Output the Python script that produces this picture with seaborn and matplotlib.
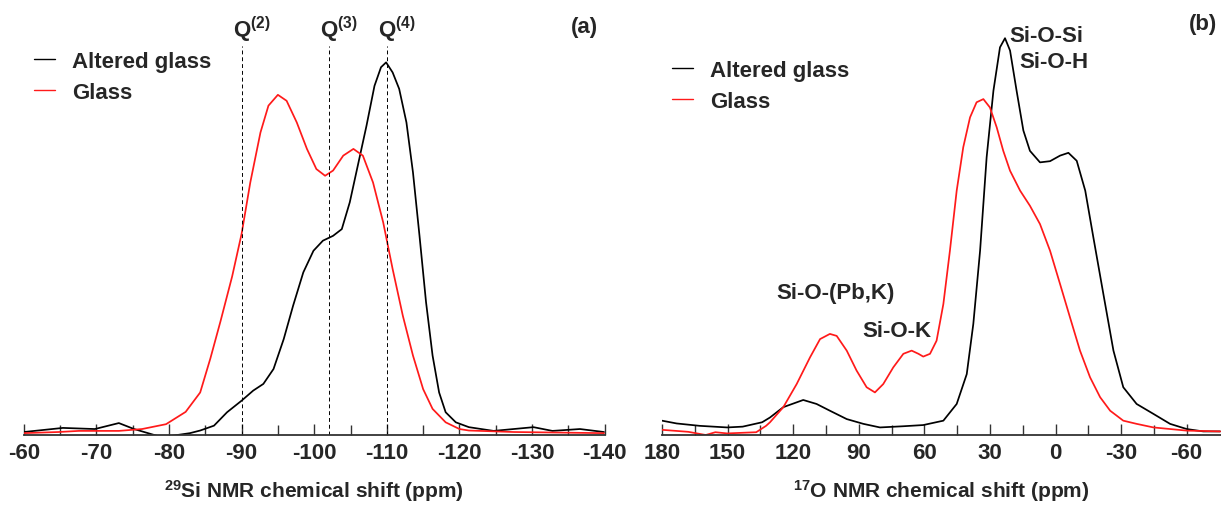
import numpy as np
import pandas as pd
import matplotlib
matplotlib.use("Agg")
import matplotlib.pyplot as plt
import seaborn as sns

# ---------------- data ----------------
# Panel (a): 29Si NMR
si_altered_ppm = [-60.0, -65.4, -69.8, -73.1, -75.2, -78.5, -80.1, -82.9, -84.3, -86.2,
                  -88.0, -90.0, -91.6, -93.0, -94.4, -95.8, -97.1, -98.5, -99.9, -101.2,
                  -102.6, -103.8, -104.9, -106.0, -107.2, -108.3, -109.2, -109.9, -110.8,
                  -111.7, -112.7, -113.6, -114.5, -115.4, -116.3, -117.2, -118.1, -119.5,
                  -121.3, -124.7, -130.2, -132.8, -136.6, -139.9]
si_altered_int = [0.008, 0.019, 0.016, 0.032, 0.016, -0.003, -0.003, 0.005, 0.012, 0.025,
                  0.061, 0.092, 0.119, 0.137, 0.177, 0.257, 0.347, 0.436, 0.494, 0.521,
                  0.534, 0.552, 0.624, 0.722, 0.829, 0.936, 0.986, 0.999, 0.972,
                  0.928, 0.838, 0.704, 0.534, 0.356, 0.213, 0.114, 0.061, 0.034,
                  0.021, 0.011, 0.021, 0.011, 0.016, 0.008]

si_glass_ppm = [-60.0, -64.8, -67.6, -73.1, -76.3, -79.6, -82.3, -84.3, -85.7, -87.1,
                -88.7, -90.0, -91.2, -92.6, -93.7, -95.0, -96.2, -97.6, -99.0, -100.3,
                -101.5, -102.6, -104.0, -105.4, -106.7, -108.1, -109.5, -110.8, -112.2,
                -113.6, -115.0, -116.3, -118.1, -120.0, -121.3, -127.5, -139.9]
si_glass_int = [0.005, 0.008, 0.011, 0.011, 0.016, 0.029, 0.062, 0.114, 0.205, 0.305,
                0.425, 0.539, 0.677, 0.811, 0.883, 0.912, 0.896, 0.838, 0.767, 0.713,
                0.695, 0.709, 0.749, 0.767, 0.749, 0.677, 0.570, 0.445, 0.320,
                0.213, 0.123, 0.070, 0.034, 0.016, 0.012, 0.008, 0.005]

# Panel (b): 17O NMR
o_altered_ppm = [180.0, 173.3, 162.7, 150.2, 143.1, 134.2, 130.6, 124.5, 115.4, 109.3,
                 103.2, 95.5, 87.9, 80.3, 69.6, 60.5, 51.3, 45.2, 40.6, 37.6, 34.5, 31.5,
                 28.4, 25.4, 23.1, 20.8, 17.8, 14.7, 11.7, 7.1, 2.5, -2.1, -5.9, -9.7,
                 -13.6, -17.3, -21.9, -26.5, -31.0, -37.1, -44.8, -52.4, -60.0, -67.6,
                 -75.3]
o_altered_int = [0.036, 0.029, 0.023, 0.019, 0.021, 0.032, 0.044, 0.070, 0.088, 0.078,
                 0.061, 0.040, 0.028, 0.019, 0.022, 0.025, 0.036, 0.078, 0.153, 0.279,
                 0.463, 0.698, 0.865, 0.974, 0.997, 0.966, 0.865, 0.765, 0.714, 0.685,
                 0.688, 0.702, 0.709, 0.689, 0.614, 0.497, 0.354, 0.212, 0.120, 0.078,
                 0.053, 0.028, 0.015, 0.009, 0.009]

o_glass_ppm = [180.0, 168.0, 160.0, 155.6, 150.2, 136.9, 132.4, 130.6, 124.5, 118.4,
               112.3, 107.7, 103.2, 100.1, 95.5, 91.0, 86.4, 82.6, 78.8, 74.2, 69.6,
               65.8, 62.7, 60.5, 57.4, 54.4, 51.3, 48.3, 45.2, 42.2, 39.1, 36.1, 33.0,
               30.0, 26.9, 23.9, 20.8, 16.2, 11.7, 7.1, 2.5, -2.1, -6.6, -11.2, -15.8,
               -20.4, -25.0, -31.0, -37.1, -44.8, -52.4, -60.0, -75.3]
o_glass_int = [0.013, 0.008, 0.000, 0.007, 0.004, 0.007, 0.023, 0.032, 0.070, 0.128,
               0.195, 0.241, 0.254, 0.249, 0.212, 0.162, 0.120, 0.107, 0.128, 0.170,
               0.204, 0.212, 0.204, 0.197, 0.204, 0.237, 0.329, 0.463, 0.614, 0.723,
               0.798, 0.836, 0.844, 0.823, 0.773, 0.714, 0.664, 0.614, 0.576, 0.530,
               0.463, 0.379, 0.296, 0.212, 0.145, 0.095, 0.061, 0.036, 0.028, 0.019,
               0.015, 0.011, 0.009]

q_labels = ["(2)", "(3)", "(4)"]
q_positions = [-90, -102, -110]

series_names = ["Altered glass", "Glass"]
series_colors = ["#000000", "#ff1a1a"]

# ---------------- style ----------------
sns.set_style("white")
plt.rcParams["font.family"] = ["Liberation Sans", "DejaVu Sans"]
plt.rcParams["mathtext.fontset"] = "custom"
plt.rcParams["mathtext.rm"] = "Liberation Sans"
plt.rcParams["mathtext.bf"] = "Liberation Sans:bold"
plt.rcParams["mathtext.it"] = "Liberation Sans:italic"

FS = 16
W, H = 1221, 506
fig = plt.figure(figsize=(W / 100, H / 100), dpi=100)

ax_top_px = 10
axis_px = 436
axA = fig.add_axes([23.7 / W, (H - axis_px) / H, 581 / W, (axis_px - ax_top_px) / H])
axB = fig.add_axes([662 / W, (H - axis_px) / H, 559 / W, (axis_px - ax_top_px) / H])

dfA = pd.concat([
    pd.DataFrame({"ppm": si_altered_ppm, "I": si_altered_int, "s": series_names[0]}),
    pd.DataFrame({"ppm": si_glass_ppm, "I": si_glass_int, "s": series_names[1]}),
])
dfB = pd.concat([
    pd.DataFrame({"ppm": o_altered_ppm, "I": o_altered_int, "s": series_names[0]}),
    pd.DataFrame({"ppm": o_glass_ppm, "I": o_glass_int, "s": series_names[1]}),
])
pal = dict(zip(series_names, series_colors))

for ax, df in ((axA, dfA), (axB, dfB)):
    sns.lineplot(data=df, x="ppm", y="I", hue="s", palette=pal, sort=False,
                 estimator=None, linewidth=1.25, ax=ax)
    for ln in ax.get_lines():
        ln.set_solid_joinstyle("round")

axA.set_xlim(-60, -140)
axA.set_ylim(0, 426 / 373)
axB.set_xlim(180, -75.7)
axB.set_ylim(0, 426 / 398)

axA.set_xticks(np.arange(-60, -141, -10))
axA.set_xticks(np.arange(-65, -140, -10), minor=True)
axA.set_xticklabels([f"{v:d}" for v in np.arange(-60, -141, -10)])
axB.set_xticks(np.arange(180, -61, -30))
axB.set_xticks(np.arange(165, -75, -30), minor=True)
axB.set_xticklabels([f"{v:d}" for v in np.arange(180, -61, -30)])

for ax in (axA, axB):
    ax.set_yticks([])
    ax.set_ylabel("")
    for side in ("top", "right", "left"):
        ax.spines[side].set_visible(False)
    ax.spines["bottom"].set_color("#333333")
    ax.spines["bottom"].set_linewidth(1.3)
    ax.tick_params(axis="x", which="major", direction="in", length=8, width=1.0,
                   color="#333333", pad=5, labelsize=FS, bottom=True)
    ax.tick_params(axis="x", which="minor", direction="in", length=7, width=1.0,
                   color="#333333", bottom=True)
    for lab in ax.get_xticklabels():
        lab.set_fontweight("bold")
    ax.patch.set_alpha(0)

axA.set_xlabel(r"$^{\mathbf{29}}$Si NMR chemical shift (ppm)", fontsize=15,
               fontweight="bold", labelpad=10)
axB.set_xlabel(r"$^{\mathbf{17}}$O NMR chemical shift (ppm)", fontsize=15,
               fontweight="bold", labelpad=10)

# Q(n) dashed markers
for lab, pos in zip(q_labels, q_positions):
    axA.vlines(pos, 0, (axis_px - 47) / 373, colors="black", linestyles=(0, (4, 3)),
               linewidth=0.7)
    axA.text(pos + 1.15, (axis_px - 30) / 373, r"$\mathbf{Q}^{\mathbf{" + lab + "}}$",
             ha="left", va="center", fontsize=FS)

axA.text(-137.2, (axis_px - 27) / 373, "(a)", ha="center", va="center",
         fontsize=FS, fontweight="bold")
axB.text(-67.5, (axis_px - 25) / 398, "(b)", ha="center", va="center",
         fontsize=FS, fontweight="bold")

# peak assignments in panel (b)
ann = [("Si-O-Si", 4.1, 36), ("Si-O-H", 0.6, 62), ("Si-O-(Pb,K)", 100.8, 294),
       ("Si-O-K", 72.6, 332)]
for txt, xp, ypx in ann:
    axB.text(xp, (axis_px - ypx) / 398, txt, ha="center", va="center",
             fontsize=FS, fontweight="bold")

# legends
legA = axA.legend(loc="upper left", bbox_to_anchor=(0.018, 0.901), frameon=False,
                  borderpad=0, borderaxespad=0,
                  handlelength=0.95, handletextpad=0.75, labelspacing=0.45,
                  prop={"size": FS, "weight": "bold"}, title=None)
legB = axB.legend(loc="upper left", bbox_to_anchor=(0.018, 0.88), frameon=False,
                  borderpad=0, borderaxespad=0,
                  handlelength=0.95, handletextpad=0.75, labelspacing=0.45,
                  prop={"size": FS, "weight": "bold"}, title=None)
for leg in (legA, legB):
    for h in leg.get_lines():
        h.set_linewidth(1.0)

fig.savefig("out.png", dpi=100)
